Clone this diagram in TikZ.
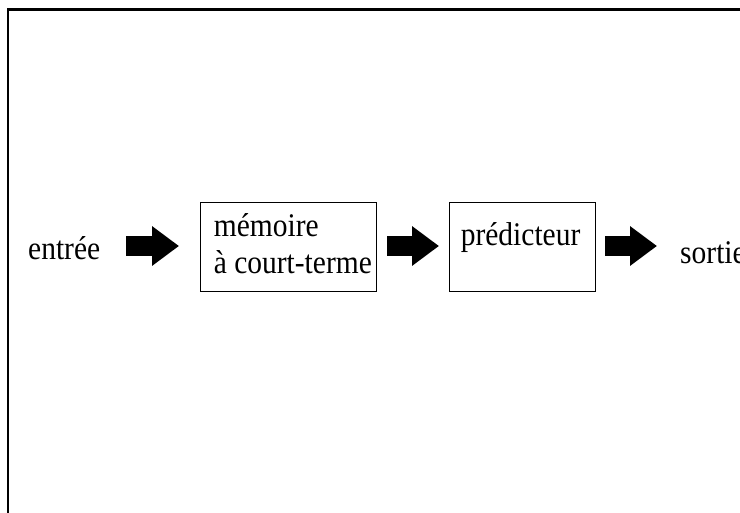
\documentclass[tikz,border=0pt]{standalone}
\usepackage{fontspec}
\setmainfont{Liberation Serif}
\usetikzlibrary{arrows.meta}
\begin{document}
\begin{tikzpicture}[x=1pt,y=-1pt,
  txt/.style={inner sep=0pt, anchor=base west, font=\fontsize{29.5}{34}\selectfont, yscale=1.12, transform shape},
  blockbox/.style={draw, line width=0.8pt, inner sep=0pt, minimum width=#1, minimum height=89pt},
  fatarrow/.style={line width=20pt, -{Triangle[width=38pt,length=27pt]}},
  framelines/.style={line width=2.5pt}]
\useasboundingbox (0,0) rectangle (740,513);
% frame
\coordinate (ftl) at (8,9.5);
\coordinate (ftr) at (741,9.5);
\coordinate (fbl) at (8,514);
\draw[framelines] (fbl) -- (ftl) -- (ftr);
% boxes
\node[blockbox=176pt] (mem) at (288,246.5) {};
\node[blockbox=146pt] (pred) at (522,246.5) {};
% texts
\node[txt] (in) at (28,260) {entrée};
\node[txt] (mem1) at ([shift={(14,35)}]mem.north west) {mémoire};
\node[txt] (mem2) at ([shift={(14,72)}]mem.north west) {à court-terme};
\node[txt] (predt) at ([shift={(12,44)}]pred.north west) {prédicteur};
\node[txt] (out) at (680,264) {sortie};
% arrows
\coordinate (a1s) at (126,246);
\coordinate (a1e) at (179,246);
\coordinate (a2s) at (387,246);
\coordinate (a2e) at (439,246);
\coordinate (a3s) at (605,246);
\coordinate (a3e) at (657,246);
\draw[fatarrow] (a1s) -- (a1e);
\draw[fatarrow] (a2s) -- (a2e);
\draw[fatarrow] (a3s) -- (a3e);
\end{tikzpicture}
\end{document}
